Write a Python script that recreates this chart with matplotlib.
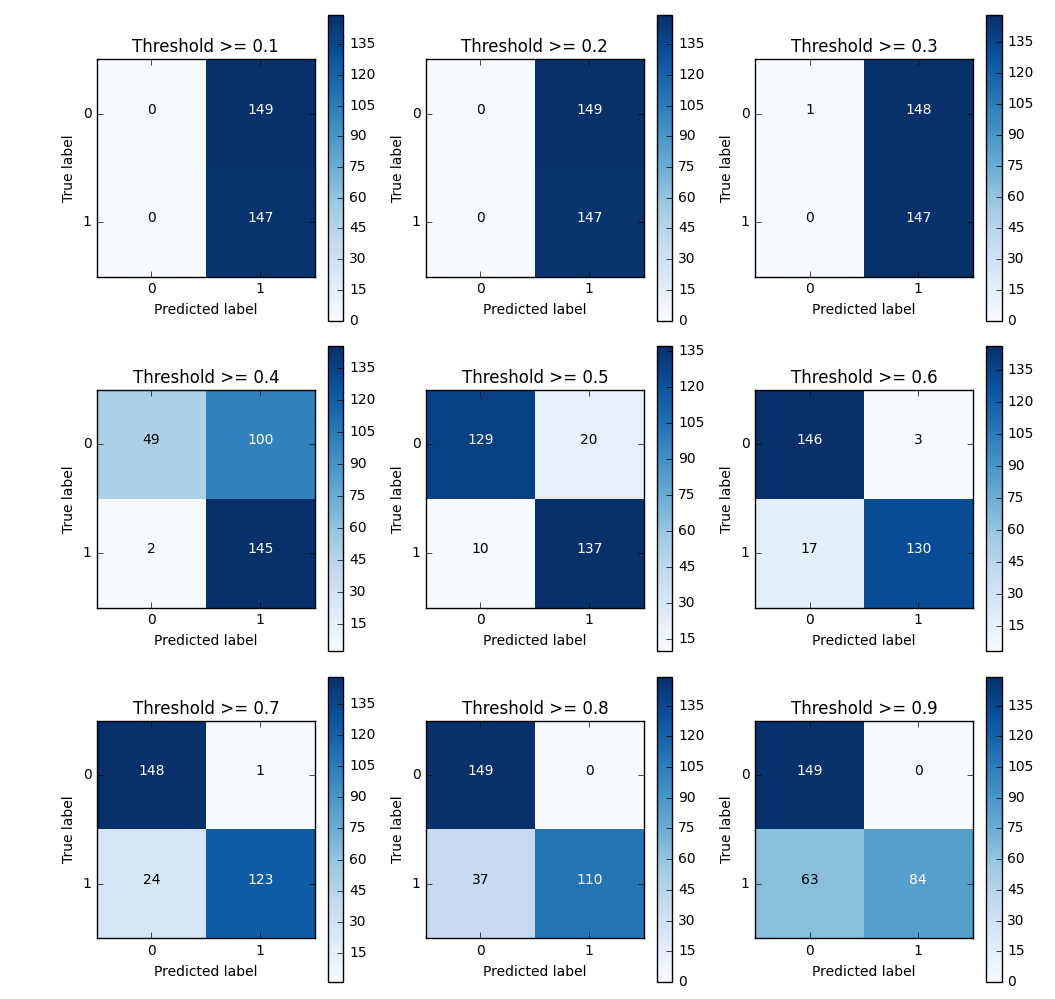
import numpy as np
import matplotlib
matplotlib.use('Agg')
import matplotlib.pyplot as plt

plt.style.use('classic')
plt.rcParams['font.size'] = 10

# Пороги и матрицы ошибок для каждого порога
thresholds = [0.1, 0.2, 0.3, 0.4, 0.5, 0.6, 0.7, 0.8, 0.9]
matrices = [
    [[0, 149], [0, 147]],
    [[0, 149], [0, 147]],
    [[1, 148], [0, 147]],
    [[49, 100], [2, 145]],
    [[129, 20], [10, 137]],
    [[146, 3], [17, 130]],
    [[148, 1], [24, 123]],
    [[149, 0], [37, 110]],
    [[149, 0], [63, 84]],
]
class_labels = ['0', '1']

fig = plt.figure(figsize=(10.55, 9.99), dpi=100, facecolor='white')
fig.subplots_adjust(left=0.092, right=0.9735, top=0.9845, bottom=0.017,
                    wspace=0.21, hspace=0.084)

for i, (thr, cm) in enumerate(zip(thresholds, matrices)):
    cm = np.array(cm)
    ax = fig.add_subplot(3, 3, i + 1)
    im = ax.imshow(cm, interpolation='nearest', cmap=plt.cm.Blues)
    ax.set_title('Threshold >= %s' % thr, fontsize=12)
    cb = fig.colorbar(im, ax=ax)
    # Шкала с шагом 15, только внутри диапазона значений
    cb_ticks = [t for t in np.arange(0, 151, 15) if cm.min() <= t <= cm.max()]
    cb.set_ticks(cb_ticks)
    cb.ax.tick_params(labelsize=10)

    ticks = np.arange(len(class_labels))
    ax.set_xticks(ticks)
    ax.set_xticklabels(class_labels)
    ax.set_yticks(ticks)
    ax.set_yticklabels(class_labels)
    ax.set_xlim(-0.5, 1.5)
    ax.set_ylim(1.5, -0.5)

    # Подписи в ячейках: белые на тёмном фоне
    thresh = cm.max() / 2.
    for r in range(cm.shape[0]):
        for c in range(cm.shape[1]):
            ax.text(c, r, cm[r, c], horizontalalignment='center',
                    color='white' if cm[r, c] > thresh else 'black')

    ax.set_ylabel('True label')
    ax.set_xlabel('Predicted label')

fig.savefig('out.png', dpi=100, facecolor='white')
